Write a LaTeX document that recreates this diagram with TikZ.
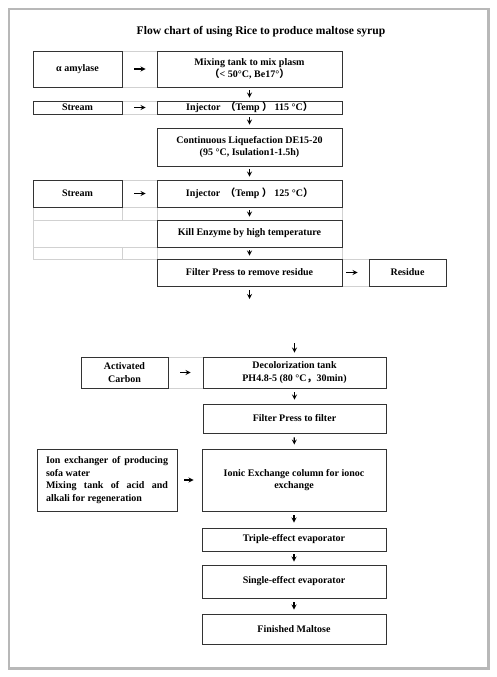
\documentclass[tikz,border=0pt]{standalone}
\usepackage{fontspec}
\setmainfont{Liberation Serif}
\newfontfamily\cjk{Noto Sans CJK SC}
\newcommand{\lpar}{{\cjk （}}
\newcommand{\rpar}{{\cjk ）}}
\newcommand{\fcomma}{{\cjk ，}}

\begin{document}
\begin{tikzpicture}[x=1pt, y=-1pt, >=stealth,
  box/.style={draw=black!80, line width=0.9pt, inner sep=0pt, align=center,
    font=\bfseries\fontsize{10}{12.5}\selectfont},
  flow/.style={->, line width=1.2pt},
  cell/.style={draw=black!18, line width=0.5pt}]
\useasboundingbox (0,0) rectangle (497,677);

% page
\fill[black!28] (8,8) rectangle (490,670);
\fill[white] (10,10) rectangle (487,667);

\node (title) at (261,32) {\bfseries\fontsize{11.6}{14}\selectfont Flow chart of using Rice to produce maltose syrup};

% faint table cells
\draw[cell] (122,51) rectangle (157,87);
\draw[cell] (122,101) rectangle (157,114);
\draw[cell] (122,180) rectangle (157,207);
\draw[cell] (33,207) rectangle (342,259);
\draw[cell] (33,220) -- (157,220) (33,247) -- (157,247)
  (122,207) -- (122,220) (122,247) -- (122,259) (157,207) -- (157,259);
\draw[cell] (342,259) rectangle (369,286);
\draw[cell] (168,357) rectangle (203,388);

% left column
\node[box, minimum width=89pt, minimum height=36pt] (amylase) at (77.5,69) {α amylase};
\node[box, minimum width=89pt, minimum height=13pt] (streamA) at (77.5,107.5) {Stream};
\node[box, minimum width=89pt, minimum height=27pt] (streamB) at (77.5,193.5) {Stream};
\node[box, minimum width=87pt, minimum height=31pt] (carbon) at (124.5,372.5) {Activated\\Carbon};
\node[box, minimum width=140pt, minimum height=62pt, text width=122pt, align=justify] (ionx) at (107,480)
  {Ion exchanger of producing\linebreak sofa water\par
   Mixing tank of acid and\linebreak alkali for regeneration};

% main column
\node[box, minimum width=185pt, minimum height=36pt] (mix) at (249.5,69)
  {Mixing tank to mix plasm\\\lpar{}< 50°C, Be17°\rpar};
\node[box, minimum width=185pt, minimum height=13pt] (injA) at (249.5,107.5)
  {Injector \ \lpar{}Temp \rpar{} 115 °C\rpar};
\node[box, minimum width=185pt, minimum height=38pt] (liquef) at (249.5,147)
  {Continuous Liquefaction DE15-20\\(95 °C, Isulation1-1.5h)};
\node[box, minimum width=185pt, minimum height=27pt] (injB) at (249.5,193.5)
  {Injector \ \lpar{}Temp \rpar{} 125 °C\rpar};
\node[box, minimum width=185pt, minimum height=27pt] (kill) at (249.5,233.5)
  {Kill Enzyme by high temperature};
\node[box, minimum width=185pt, minimum height=27pt] (filtA) at (249.5,272.5)
  {Filter Press to remove residue};
\node[box, minimum width=77pt, minimum height=27pt] (residue) at (407.5,272.5) {Residue};

\node[box, minimum width=183pt, minimum height=31pt] (decol) at (294.5,372.5)
  {Decolorization tank\\PH4.8-5 (80 °C\fcomma{}30min)};
\node[box, minimum width=183pt, minimum height=29pt] (filtB) at (294.5,418.5)
  {Filter Press to filter};
\node[box, minimum width=184pt, minimum height=62pt] (ionc) at (294,480)
  {Ionic Exchange column for ionoc\\exchange};
\node[box, minimum width=184pt, minimum height=23pt] (triple) at (294,539.5)
  {Triple-effect evaporator};
\node[box, minimum width=184pt, minimum height=33pt] (single) at (294,581.5)
  {Single-effect evaporator};
\node[box, minimum width=184pt, minimum height=30pt] (final) at (294,629)
  {Finished Maltose};

\coordinate (gapA) at (249.5,299);
\coordinate (gapB) at (294.5,343);

% side arrows
\draw[flow, shorten <=12pt, shorten >=11pt] (amylase) -- (mix);
\draw[flow, shorten <=12pt, shorten >=11pt] (streamA) -- (injA);
\draw[flow, shorten <=12pt, shorten >=11pt] (streamB) -- (injB);
\draw[flow, shorten <=4pt, shorten >=11pt] (filtA) -- (residue);
\draw[flow, shorten <=12pt, shorten >=12pt] (carbon) -- (decol);
\draw[flow, shorten <=7pt, shorten >=8pt] (ionx) -- (ionc);

% down arrows
\draw[flow, shorten <=3pt, shorten >=3pt] (mix) -- (injA);
\draw[flow, shorten <=3pt, shorten >=3pt] (injA) -- (liquef);
\draw[flow, shorten <=3pt, shorten >=3pt] (liquef) -- (injB);
\draw[flow, shorten <=3pt, shorten >=3pt] (injB) -- (kill);
\draw[flow, shorten <=3pt, shorten >=3pt] (kill) -- (filtA);
\draw[flow, shorten <=4pt] (filtA) -- (gapA);
\draw[flow, shorten >=4pt] (gapB) -- (decol);
\draw[flow, shorten <=4pt, shorten >=4pt] (decol) -- (filtB);
\draw[flow, shorten <=4pt, shorten >=4pt] (filtB) -- (ionc);
\draw[flow, shorten <=4pt, shorten >=5pt] (ionc) -- (triple);
\draw[flow, shorten <=3pt, shorten >=3pt] (triple) -- (single);
\draw[flow, shorten <=4pt, shorten >=4pt] (single) -- (final);
\end{tikzpicture}
\end{document}
